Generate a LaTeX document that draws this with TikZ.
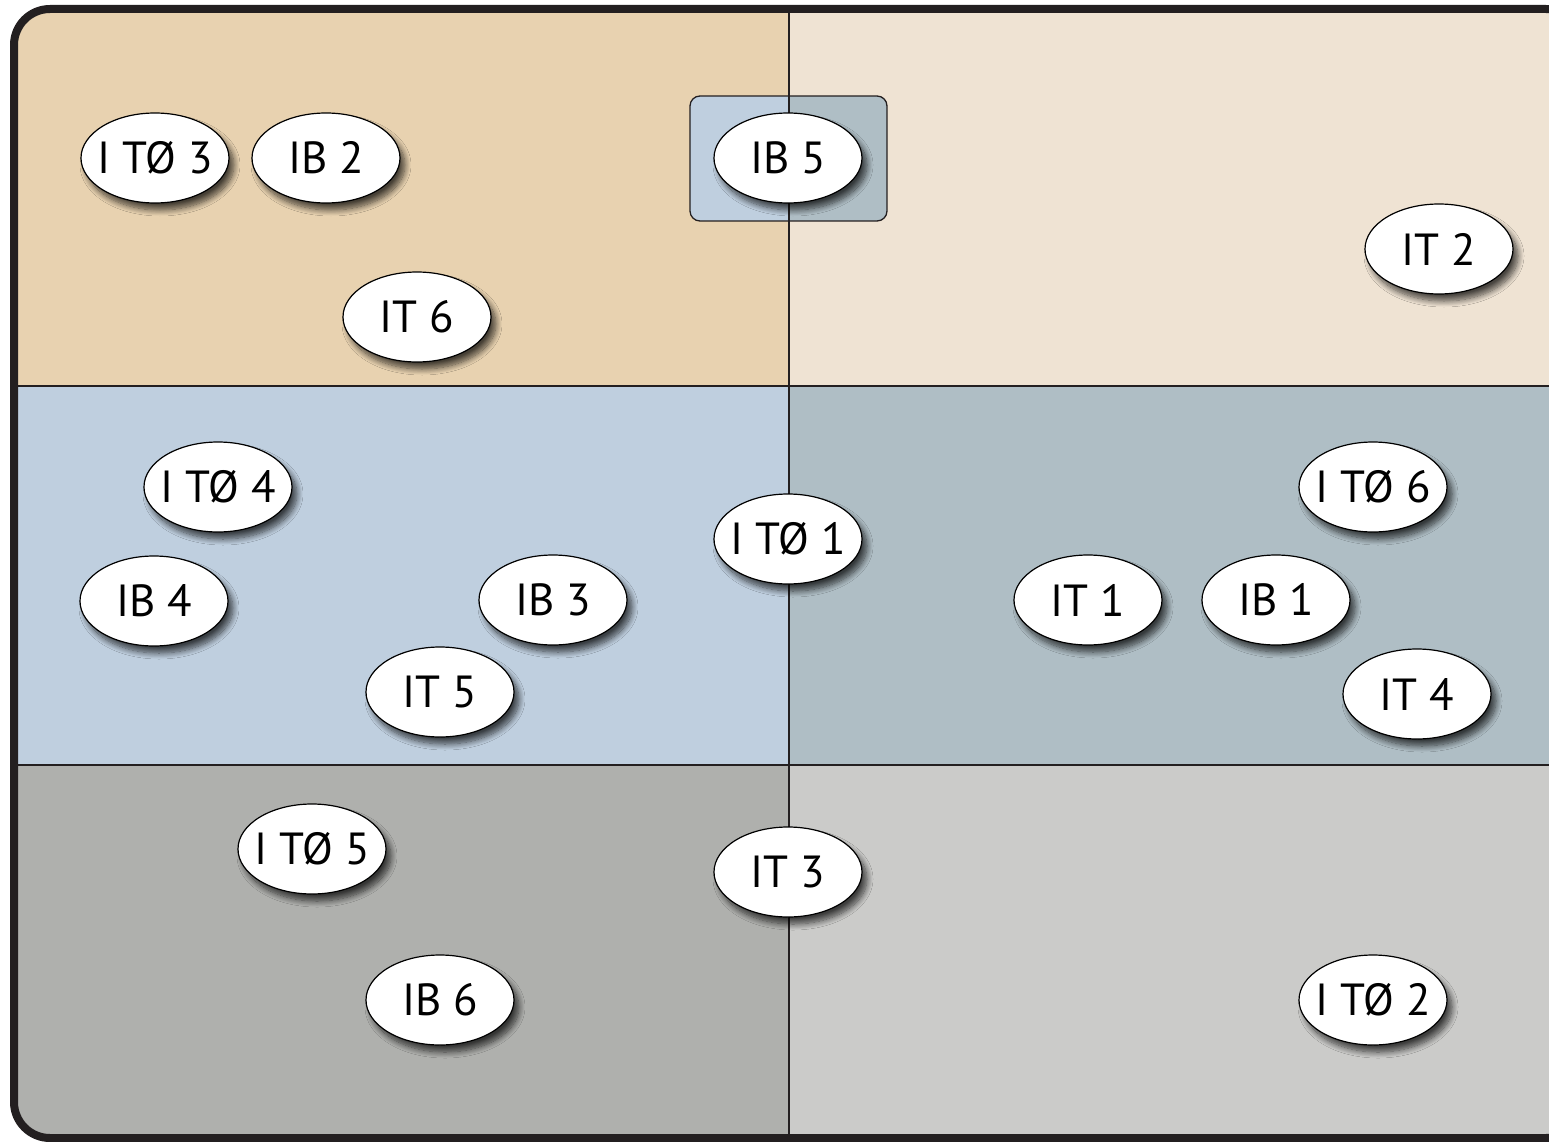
\documentclass[tikz,border=0pt]{standalone}
\usepackage{fontspec}
\setmainfont{PT Sans}
\usetikzlibrary{shapes.geometric,shadows.blur}
\definecolor{cTL}{HTML}{E8D2B0}
\definecolor{cTR}{HTML}{EFE3D3}
\definecolor{cML}{HTML}{BFCFDF}
\definecolor{cMR}{HTML}{AFBEC5}
\definecolor{cBL}{HTML}{AFB0AD}
\definecolor{cBR}{HTML}{CBCBC9}
\definecolor{frame}{HTML}{231F20}
\newcommand{\tagtxt}[1]{\makebox[0pt][c]{#1}}
\tikzset{
  tag/.style={ellipse, draw=black, line width=1.2pt, fill=white,
    minimum width=148pt, minimum height=90pt, inner sep=0pt,
    font=\fontsize{45}{45}\selectfont,
    blur shadow={shadow xshift=5pt, shadow yshift=-7pt, shadow blur radius=6pt, shadow blur steps=10, shadow opacity=70}},
  divider/.style={draw=frame, line width=1.3pt}
}
\begin{document}
\begin{tikzpicture}[x=1pt,y=-1pt]
\useasboundingbox (0,0) rectangle (1549,1142);
\begin{scope}
\clip[rounded corners=36pt] (14,9) rectangle (1582,1138);
\fill[cTL] (0,0) rectangle (789,386);
\fill[cTR] (789,0) rectangle (1600,386);
\fill[cML] (0,386) rectangle (789,765);
\fill[cMR] (789,386) rectangle (1600,765);
\fill[cBL] (0,765) rectangle (789,1200);
\fill[cBR] (789,765) rectangle (1600,1200);
\end{scope}
% IB5 box
\begin{scope}
\clip[rounded corners=10pt] (690,96) rectangle (887,221);
\fill[cML] (690,96) rectangle (789,221);
\fill[cMR] (789,96) rectangle (887,221);
\end{scope}
\draw[frame, line width=1.3pt, rounded corners=10pt] (690,96) rectangle (887,221);
% dividers
\coordinate (vt) at (789,9);
\coordinate (vb) at (789,1138);
\coordinate (h1l) at (14,386);
\coordinate (h1r) at (1582,386);
\coordinate (h2l) at (14,765);
\coordinate (h2r) at (1582,765);
\draw[divider] (vt) -- (vb);
\draw[divider] (h1l) -- (h1r);
\draw[divider] (h2l) -- (h2r);
% frame
\draw[frame, line width=8pt, rounded corners=36pt] (14,9) rectangle (1582,1138);
% tags
\node[tag] (ito3) at (155,158) {\tagtxt{I TØ 3}};
\node[tag] (ib2) at (326,158) {\tagtxt{IB 2}};
\node[tag] (ib5) at (788,158) {\tagtxt{IB 5}};
\node[tag] (it2) at (1439,249) {\tagtxt{IT 2}};
\node[tag] (it6) at (417,317) {\tagtxt{IT 6}};
\node[tag] (ito4) at (218,487) {\tagtxt{I TØ 4}};
\node[tag] (ito1) at (788,539) {\tagtxt{I TØ 1}};
\node[tag] (ito6) at (1373,487) {\tagtxt{I TØ 6}};
\node[tag] (ib4) at (154,601) {\tagtxt{IB 4}};
\node[tag] (ib3) at (553,600) {\tagtxt{IB 3}};
\node[tag] (it1) at (1088,600) {\tagtxt{IT 1}};
\node[tag] (ib1) at (1276,600) {\tagtxt{IB 1}};
\node[tag] (it5) at (440,692) {\tagtxt{IT 5}};
\node[tag] (it4) at (1417,694) {\tagtxt{IT 4}};
\node[tag] (ito5) at (312,849) {\tagtxt{I TØ 5}};
\node[tag] (it3) at (788,872) {\tagtxt{IT 3}};
\node[tag] (ib6) at (440,1000) {\tagtxt{IB 6}};
\node[tag] (ito2) at (1373,1000) {\tagtxt{I TØ 2}};
\end{tikzpicture}
\end{document}
